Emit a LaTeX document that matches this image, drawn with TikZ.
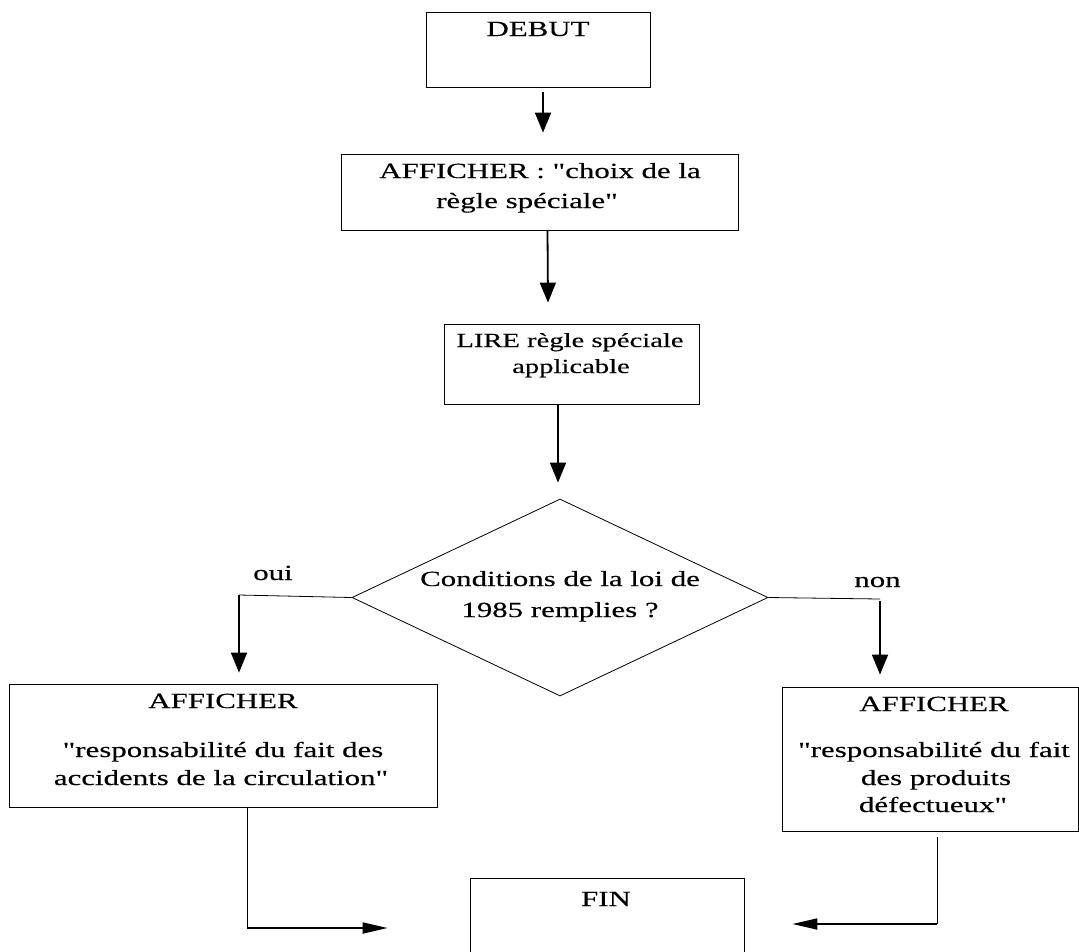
\documentclass[tikz,border=0pt]{standalone}
\usepackage{fontspec}
\setmainfont{Liberation Serif}[FakeStretch=1.43, FakeBold=0.3, Ligatures=TeXOff]
\usetikzlibrary{arrows.meta,shapes.geometric,calc}
\begin{document}
\begin{tikzpicture}[x=1pt,y=-1pt,
  box/.style={draw, line width=0.8pt, inner sep=0pt},
  txt/.style={anchor=base, inner sep=0pt, font=\fontsize{21.6}{25}\selectfont},
  stxt/.style={anchor=base, inner sep=0pt, font=\fontsize{20}{24}\selectfont},
  thin/.style={line width=0.8pt},
  varr/.style={line width=1.8pt, -{Triangle[length=20pt,width=16pt]}},
  harr/.style={line width=1.8pt, -{Triangle[length=25pt,width=11pt]}}]
\useasboundingbox (0,0) rectangle (1079,951);

% boxes
\node[box, minimum width=224pt, minimum height=75pt] (debut) at (538,49.5) {};
\node[box, minimum width=397pt, minimum height=76pt] (aff) at (539.5,192) {};
\node[box, minimum width=255pt, minimum height=80pt] (lire) at (571.5,364) {};
\node[diamond, draw, line width=0.8pt, inner sep=0pt, minimum width=416pt, minimum height=197pt] (cond) at (560,597.5) {};
\node[box, minimum width=428pt, minimum height=123pt] (left) at (223,745.5) {};
\node[box, minimum width=296pt, minimum height=144pt] (right) at (930,759) {};
\node[box, minimum width=274pt, minimum height=82pt] (fin) at (607,919) {};

% texts
\node[txt] (tdebut) at (538,36) {DEBUT};
\node[txt] (taff1) at (540,178) {AFFICHER : "choix de la};
\node[txt] (taff2) at (527,208) {règle spéciale"};
\node[stxt] (tlire1) at (570,347) {LIRE règle spéciale};
\node[stxt] (tlire2) at (571,373) {applicable};
\node[txt] (tcond1) at (560,586) {Conditions de la loi de};
\node[txt] (tcond2) at (560,617) {1985 remplies ?};
\node[txt] (toui) at (273,580) {oui};
\node[txt] (tnon) at (877.5,587) {non};
\node[txt] (tl1) at (223,708) {AFFICHER};
\node[txt] (tl2) at (223,757) {"responsabilité du fait des};
\node[txt] (tl3) at (221,785) {accidents de la circulation"};
\node[txt] (tr1) at (934,711) {AFFICHER};
\node[txt] (tr2) at (934,757) {"responsabilité du fait};
\node[txt] (tr3) at (936,785) {des produits};
\node[txt] (tr4) at (933,812) {défectueux"};
\node[txt] (tfin) at (606,906) {FIN};

% connectors
\draw[varr] ([xshift=5pt,yshift=-5pt]debut.south) -- ([xshift=3.5pt,yshift=21pt]aff.north);
\draw[varr] ([xshift=8pt]aff.south) -- ([xshift=-23.5pt,yshift=21pt]lire.north);
\draw[varr] ([xshift=-13.5pt]lire.south) -- ([xshift=-2pt,yshift=16pt]cond.north);

\coordinate (ouiC) at (239,595);
\draw[thin] (cond.west) -- (ouiC);
\draw[varr] (ouiC) -- ([xshift=16pt,yshift=11pt]left.north);

\coordinate (nonC) at (880,599);
\draw[thin] (cond.east) -- (nonC);
\draw[varr] ([yshift=-2pt]nonC) -- ([xshift=-50pt,yshift=12pt]right.north);

\coordinate (lb) at (247,928);
\draw[thin] ([xshift=24pt]left.south) -- (lb);
\draw[harr] (lb) -- ($(fin.west |- lb)+(-82,0)$);

\coordinate (rb) at (937,924);
\draw[thin] ([xshift=7pt,yshift=-6pt]right.south) -- (rb);
\draw[harr] (rb) -- ($(fin.east |- rb)+(48,0)$);
\end{tikzpicture}
\end{document}
